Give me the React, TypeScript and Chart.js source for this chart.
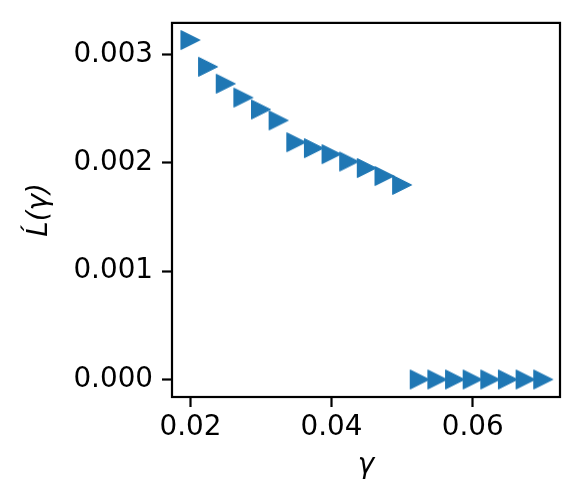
import React, { useEffect, useRef } from "react";
import { Chart, registerables } from "chart.js";

Chart.register(...registerables);

const gammaValues = [
  0.02, 0.0225, 0.025, 0.0275, 0.03, 0.0325, 0.035, 0.0375, 0.04, 0.0425, 0.045,
  0.0475, 0.05, 0.0525, 0.055, 0.0575, 0.06, 0.0625, 0.065, 0.0675, 0.07,
];
const lossDerivValues = [
  0.003132, 0.002885, 0.002729, 0.002601, 0.002491, 0.00239, 0.002189, 0.002134,
  0.002079, 0.002011, 0.001951, 0.001877, 0.001795, 0, 0, 0, 0, 0, 0, 0, 0,
];
const xTicks = [0.02, 0.04, 0.06];
const yTicks = [0, 0.001, 0.002, 0.003];
const xTitle = "\u03b3";
const yTitle = "L\u0301(\u03b3)";

const BLUE = "#1f77b4";
const FONT = "'DejaVu Sans', sans-serif";
const FS = 27.8;

function makeMarker(): HTMLCanvasElement {
  const c = document.createElement("canvas");
  c.width = 22;
  c.height = 22;
  const ctx = c.getContext("2d")!;
  ctx.fillStyle = BLUE;
  ctx.strokeStyle = BLUE;
  ctx.lineWidth = 1;
  ctx.beginPath();
  ctx.moveTo(1.5, 1.5);
  ctx.lineTo(20.5, 11);
  ctx.lineTo(1.5, 20.5);
  ctx.closePath();
  ctx.fill();
  ctx.stroke();
  return c;
}

const framePlugin = {
  id: "frame",
  afterDraw(chart: any) {
    const { ctx, chartArea } = chart;
    ctx.save();
    ctx.strokeStyle = "#000";
    ctx.lineWidth = 2.2;
    ctx.strokeRect(
      chartArea.left,
      chartArea.top,
      chartArea.right - chartArea.left,
      chartArea.bottom - chartArea.top
    );
    ctx.restore();
  },
};

export default function App() {
  const ref = useRef<HTMLCanvasElement | null>(null);

  useEffect(() => {
    if (!ref.current) return;
    const points = gammaValues.map((x, i) => ({ x, y: lossDerivValues[i] }));
    const marker = makeMarker();
    const chart = new Chart(ref.current, {
      type: "scatter",
      data: {
        datasets: [
          {
            data: points,
            pointStyle: marker as any,
            pointRadius: 10,
            backgroundColor: BLUE,
            borderColor: BLUE,
            showLine: false,
          },
        ],
      },
      plugins: [framePlugin],
      options: {
        animation: false,
        responsive: false,
        devicePixelRatio: 1,
        events: [],
        layout: { padding: { top: 20, right: 20, left: 0, bottom: 0 } },
        plugins: { legend: { display: false }, tooltip: { enabled: false } },
        scales: {
          x: {
            type: "linear",
            min: 0.01739,
            max: 0.07238,
            afterBuildTicks: (s: any) => {
              s.ticks = xTicks.map((v) => ({ value: v }));
            },
            afterFit: (s: any) => {
              s.height = 107;
            },
            border: { display: false },
            grid: {
              drawOnChartArea: false,
              drawTicks: true,
              tickLength: 10,
              tickWidth: 2.2,
              tickColor: "#000",
            },
            ticks: {
              color: "#000",
              font: { family: FONT, size: FS, lineHeight: 1 },
              padding: 7,
              maxRotation: 0,
              autoSkip: false,
              callback: (v: any) => Number(v).toFixed(2),
            },
            title: {
              display: true,
              text: xTitle,
              color: "#000",
              font: { family: FONT, size: FS, style: "italic", lineHeight: 1 },
              padding: { top: 0, bottom: 24.5 },
            },
          },
          y: {
            type: "linear",
            min: -0.000162,
            max: 0.00329,
            afterBuildTicks: (s: any) => {
              s.ticks = yTicks.map((v) => ({ value: v }));
            },
            afterFit: (s: any) => {
              s.width = 172;
            },
            border: { display: false },
            grid: {
              drawOnChartArea: false,
              drawTicks: true,
              tickLength: 10,
              tickWidth: 2.2,
              tickColor: "#000",
            },
            ticks: {
              color: "#000",
              font: { family: FONT, size: FS, lineHeight: 1 },
              padding: 9,
              autoSkip: false,
              callback: (v: any) => Number(v).toFixed(3),
            },
            title: {
              display: true,
              text: yTitle,
              color: "#000",
              font: { family: FONT, size: FS, style: "italic", lineHeight: 1 },
              padding: { top: 26, bottom: 0 },
            },
          },
        },
      },
    } as any);
    return () => chart.destroy();
  }, []);

  return (
    <div style={{ position: "absolute", left: 0, top: 0, width: 580, height: 504, background: "#fff" }}>
      <canvas ref={ref} width={580} height={504} style={{ width: 580, height: 504, display: "block" }} />
    </div>
  );
}
